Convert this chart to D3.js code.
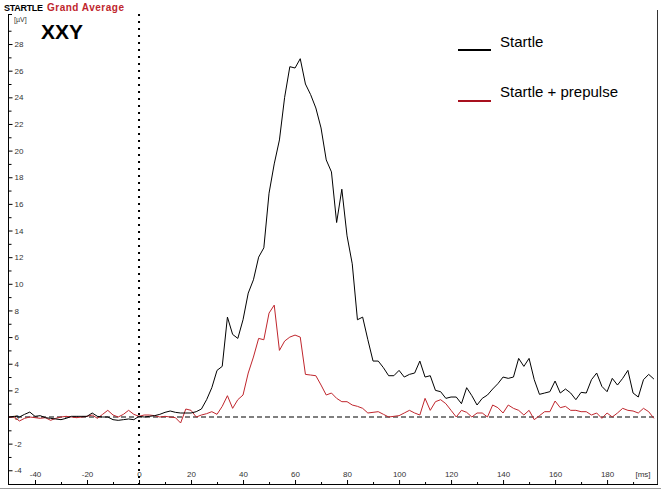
<!DOCTYPE html>
<html>
<head>
<meta charset="utf-8">
<script src="https://cdn.jsdelivr.net/npm/d3@7/dist/d3.min.js"></script>
<style>
  html, body { margin: 0; padding: 0; background: #fff; }
  svg { display: block; font-family: Arial, "Liberation Sans", sans-serif; }
</style>
</head>
<body>
<svg id="chart" width="661" height="492"></svg>
<script>
// ---- data ----
const times = [-50,-48,-46,-44,-42,-40,-38,-36,-34,-32,-30,-28,-26,-24,-22,-20,-18,-16,-14,-12,-10,-8,-6,-4,-2,
  0,2,4,6,8,10,12,14,16,18,20,22,24,26,28,30,32,34,36,38,40,42,44,46,48,50,52,54,56,58,60,62,64,66,68,70,72,74,76,78,
  80,82,84,86,88,90,92,94,96,98,100,102,104,106,108,110,112,114,116,118,120,122,124,126,128,130,132,134,136,138,140,
  142,144,146,148,150,152,154,156,158,160,162,164,166,168,170,172,174,176,178,180,182,184,186,188,190,192,194,196,198];

const startle = [0.0,0.05,0.0,0.2,0.37,0.05,0.1,-0.05,-0.1,-0.15,-0.2,-0.1,0.05,0.05,0.05,0.05,0.3,0.05,0.0,0.0,-0.2,-0.25,-0.2,-0.15,-0.2,
  0.05,0.0,0.05,0.1,0.2,0.35,0.45,0.35,0.3,0.3,0.3,0.4,0.6,1.3,2.2,3.5,3.8,7.5,6.2,5.9,7.3,9.3,10.3,12.0,12.7,16.8,19.0,20.8,24.0,26.3,
  26.2,26.9,25.0,24.2,23.2,21.7,19.3,18.4,14.6,17.1,13.6,11.5,7.3,7.5,5.8,4.2,4.2,3.7,3.1,3.1,3.5,3.0,3.2,3.3,4.2,3.0,
  3.1,2.0,1.9,1.4,1.5,1.5,1.0,2.2,1.6,0.9,1.4,1.65,2.1,2.5,3.0,2.9,3.0,4.4,3.8,4.4,2.8,1.7,1.8,1.9,2.7,1.8,2.1,1.8,1.3,
  1.85,1.8,2.8,3.3,2.3,1.9,2.9,2.4,2.9,3.5,1.8,1.5,2.8,3.2,2.85];

const prepulse = [0.0,0.0,-0.3,-0.1,0.0,-0.05,-0.1,-0.05,-0.25,-0.1,0.0,0.05,0.0,-0.05,0.0,0.05,0.15,-0.1,0.2,0.5,0.15,0.0,0.2,0.5,0.2,
  0.05,0.15,0.15,0.1,0.0,0.05,0.0,-0.05,-0.45,0.6,0.5,0.0,0.15,0.25,0.4,0.2,0.8,1.6,0.65,1.3,1.65,3.3,4.5,5.9,5.8,7.8,8.4,5.0,5.7,6.0,
  6.15,6.0,3.2,3.15,3.1,2.4,1.65,1.8,1.4,1.15,1.15,0.9,0.8,0.65,0.3,0.35,0.4,0.2,0.0,0.05,0.1,0.3,0.5,0.3,0.15,1.4,
  0.5,1.15,1.3,1.0,0.5,0.0,0.5,0.35,0.0,0.3,0.3,0.0,0.9,0.7,0.3,0.9,0.65,0.5,0.15,0.5,-0.2,0.1,0.4,0.4,1.2,0.7,0.8,0.5,0.5,
  0.4,0.4,0.15,0.3,-0.1,0.3,0.0,0.3,0.65,0.5,0.45,0.3,0.65,0.4,-0.1];

const xTickValues = [-40,-20,0,20,40,60,80,100,120,140,160,180];
const xMinorTicks = [-30,-10,10,30,50,70,90,110,130,150,170,190];
const yTickValues = [-4,-2,0,2,4,6,8,10,12,14,16,18,20,22,24,26,28];
const yMinorTicks = [-3,-1,1,3,5,7,9,11,13,15,17,19,21,23,25,27,29];

const seriesNames = ["Startle", "Startle + prepulse"];
const seriesColors = ["#000000", "#c0262d"];

// ---- layout ----
const svg = d3.select("#chart");
const x = d3.scaleLinear().domain([-50, 199.2]).range([9, 657]);
const y = d3.scaleLinear().domain([-5, 30]).range([483.6, 17.4]);
const axisX = 8, axisBottom = 484, axisTop = 14, rightX = 657;

// title
svg.append("text").attr("x", 4).attr("y", 11)
  .attr("font-size", 9).attr("font-weight", "bold").attr("fill", "#000")
  .attr("letter-spacing", "-0.3px").text("STARTLE");
svg.append("text").attr("x", 47).attr("y", 11)
  .attr("font-size", 10).attr("font-weight", "bold").attr("fill", "#c0262d")
  .attr("letter-spacing", "0.5px").text("Grand Average");

// outer border lines
svg.append("line").attr("x1", 0).attr("x2", 661).attr("y1", 488.5).attr("y2", 488.5)
  .attr("stroke", "#999").attr("stroke-width", 1);
svg.append("line").attr("x1", rightX + 0.5).attr("x2", rightX + 0.5).attr("y1", 10).attr("y2", axisBottom)
  .attr("stroke", "#333").attr("stroke-width", 1);

// y axis
svg.append("line").attr("x1", axisX + 0.5).attr("x2", axisX + 0.5).attr("y1", axisTop).attr("y2", axisBottom)
  .attr("stroke", "#000").attr("stroke-width", 1);
svg.append("line").attr("x1", axisX).attr("x2", axisX + 4).attr("y1", axisTop + 0.5).attr("y2", axisTop + 0.5)
  .attr("stroke", "#000");

const yAxis = svg.append("g").attr("transform", `translate(${axisX + 0.5},0)`)
  .call(d3.axisRight(y).tickValues(yTickValues).tickSize(4).tickSizeOuter(0).tickPadding(2)
    .tickFormat(d => d < 0 ? "-" + Math.abs(d) : d));
yAxis.select(".domain").remove();
yAxis.selectAll("text").attr("font-size", 8).attr("fill", "#333").attr("font-family", "Arial, 'Liberation Sans', sans-serif");
yAxis.selectAll("line").attr("stroke", "#000");

const yMinor = svg.append("g").attr("transform", `translate(${axisX + 0.5},0)`)
  .call(d3.axisRight(y).tickValues(yMinorTicks).tickSize(3).tickSizeOuter(0).tickFormat(""));
yMinor.select(".domain").remove();
yMinor.selectAll("line").attr("stroke", "#000");

svg.append("text").attr("x", 14).attr("y", 22).attr("font-size", 7).attr("fill", "#333").text("[µV]");

// x axis
svg.append("line").attr("x1", axisX).attr("x2", rightX + 1).attr("y1", axisBottom + 0.5).attr("y2", axisBottom + 0.5)
  .attr("stroke", "#000").attr("stroke-width", 1);

const xAxis = svg.append("g").attr("transform", `translate(0,${axisBottom})`)
  .call(d3.axisTop(x).tickValues(xTickValues).tickSize(4).tickSizeOuter(0).tickPadding(3)
    .tickFormat(d => d < 0 ? "-" + Math.abs(d) : d));
xAxis.select(".domain").remove();
xAxis.selectAll("text").attr("font-size", 8).attr("fill", "#333").attr("font-family", "Arial, 'Liberation Sans', sans-serif");
xAxis.selectAll("line").attr("stroke", "#000");

const xMinor = svg.append("g").attr("transform", `translate(0,${axisBottom})`)
  .call(d3.axisTop(x).tickValues(xMinorTicks).tickSize(2).tickSizeOuter(0).tickFormat(""));
xMinor.select(".domain").remove();
xMinor.selectAll("line").attr("stroke", "#000");

svg.append("text").attr("x", 643).attr("y", 477).attr("text-anchor", "middle")
  .attr("font-size", 8).attr("fill", "#333").text("[ms]");

// reference lines
svg.append("line").attr("x1", x(0)).attr("x2", x(0)).attr("y1", axisTop).attr("y2", axisBottom)
  .attr("stroke", "#000").attr("stroke-width", 2).attr("stroke-dasharray", "2,5");
svg.append("line").attr("x1", axisX + 1).attr("x2", rightX).attr("y1", y(0)).attr("y2", y(0))
  .attr("stroke", "#555").attr("stroke-width", 1.3).attr("stroke-dasharray", "5,3");

// series
const line = d3.line().x((d, i) => x(times[i])).y(d => y(d));
svg.append("path").datum(prepulse).attr("d", line)
  .attr("fill", "none").attr("stroke", seriesColors[1]).attr("stroke-width", 1);
svg.append("path").datum(startle).attr("d", line)
  .attr("fill", "none").attr("stroke", seriesColors[0]).attr("stroke-width", 1);

// label
svg.append("text").attr("x", 41).attr("y", 39).attr("font-size", 21).attr("font-weight", "bold")
  .attr("fill", "#000").text("XXY");

// legend
const legendY = [50, 101];
const legendTextY = [47, 97];
seriesNames.forEach((name, i) => {
  svg.append("line").attr("x1", 458).attr("x2", 491).attr("y1", legendY[i]).attr("y2", legendY[i])
    .attr("stroke", i === 0 ? "#000" : "#a8101e").attr("stroke-width", 2);
  svg.append("text").attr("x", 500).attr("y", legendTextY[i]).attr("font-size", 15)
    .attr("fill", "#000").text(name);
});
</script>
</body>
</html>
